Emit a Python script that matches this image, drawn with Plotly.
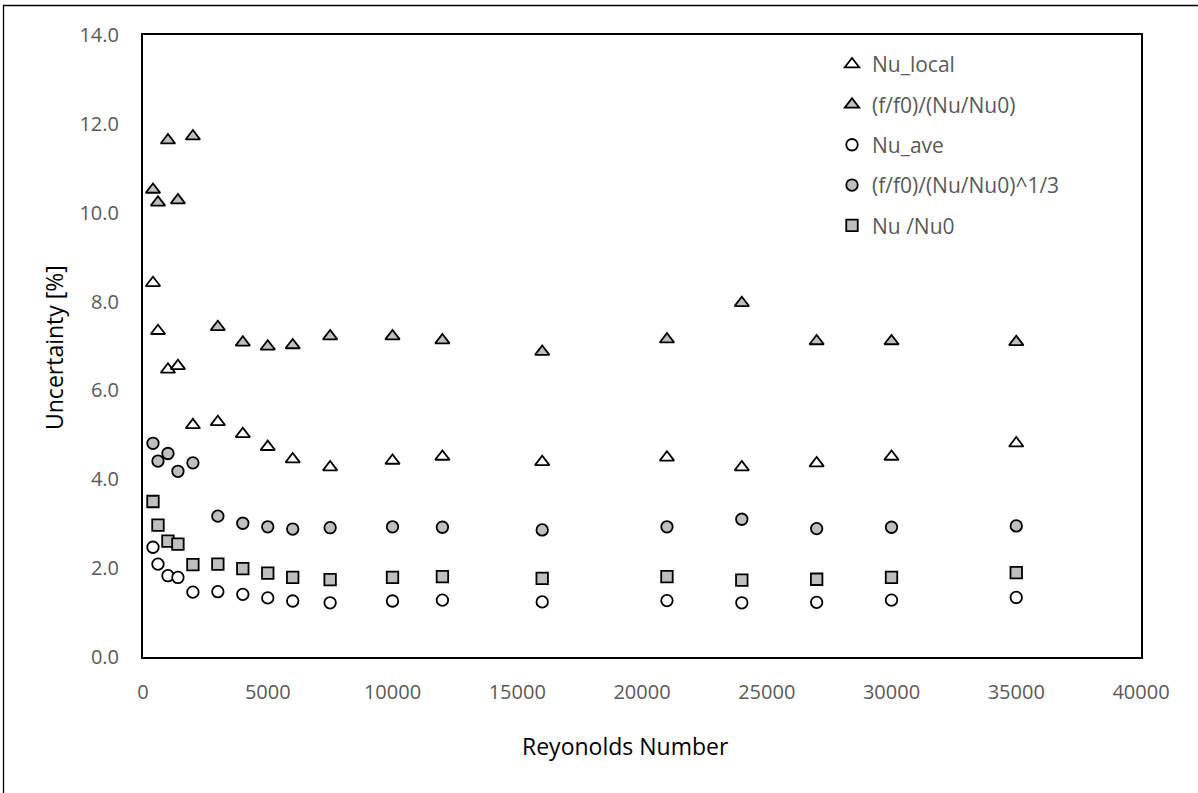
import plotly.graph_objects as go

# ---- data ----
reynolds = [400, 600, 1000, 1400, 2000, 3000, 4000, 5000, 6000, 7500,
            10000, 12000, 16000, 21000, 24000, 27000, 30000, 35000]

nu_local = [8.42, 7.34, 6.47, 6.55, 5.22, 5.29, 5.02, 4.73, 4.45, 4.27,
            4.42, 4.51, 4.39, 4.49, 4.27, 4.36, 4.51, 4.81]
f_ratio_over_nu = [10.52, 10.23, 11.63, 10.28, 11.72, 7.43, 7.08, 6.99, 7.02, 7.22,
                   7.22, 7.13, 6.87, 7.15, 7.97, 7.11, 7.11, 7.09]
nu_ave = [2.47, 2.09, 1.83, 1.79, 1.46, 1.47, 1.41, 1.33, 1.26, 1.22,
          1.26, 1.28, 1.24, 1.27, 1.22, 1.23, 1.28, 1.34]
f_ratio_over_nu_third = [4.81, 4.41, 4.58, 4.18, 4.37, 3.17, 3.01, 2.93, 2.88, 2.91,
                         2.93, 2.92, 2.86, 2.93, 3.10, 2.89, 2.92, 2.95]
nu_over_nu0 = [3.50, 2.97, 2.61, 2.54, 2.08, 2.09, 1.99, 1.89, 1.79, 1.74,
               1.79, 1.81, 1.77, 1.81, 1.73, 1.75, 1.79, 1.90]

series_names = ["Nu_local", "(f/f0)/(Nu/Nu0)", "Nu_ave", "(f/f0)/(Nu/Nu0)^1/3", "Nu /Nu0"]
x_ticks = [0, 5000, 10000, 15000, 20000, 25000, 30000, 35000, 40000]
y_ticks = [0, 2, 4, 6, 8, 10, 12, 14]

# ---- styles ----
GREY = "#BFBFBF"
WHITE = "#FFFFFF"
series_values = [nu_local, f_ratio_over_nu, nu_ave, f_ratio_over_nu_third, nu_over_nu0]
symbols = ["triangle-up", "triangle-up", "circle", "circle", "square"]
fills = [WHITE, GREY, WHITE, GREY, GREY]
sizes = [12.5, 12.5, 11.5, 11.5, 11.5]

FONT = "Open Sans"
W, H = 1198, 793
L, R, T, B = 143, 57, 35, 136

fig = go.Figure()
for i, (name, vals) in enumerate(zip(series_names, series_values)):
    fig.add_trace(go.Scatter(
        x=reynolds, y=vals, mode="markers", name=name, legendgroup=f"g{i}",
        marker=dict(symbol=symbols[i], size=sizes[i], color=fills[i],
                    line=dict(color="#000000", width=1.8)),
    ))

pw = W - L - R
ph = H - T - B


def px_to_paper_x(px):
    return (px - L) / pw


def px_to_paper_y(py):
    return (H - B - py) / ph


fig.update_layout(
    width=W, height=H,
    margin=dict(l=L, r=R, t=T, b=B, pad=0),
    paper_bgcolor="#FFFFFF", plot_bgcolor="#FFFFFF",
    font=dict(family=FONT, color="#595959", size=20),
    showlegend=True,
    legend=dict(
        x=px_to_paper_x(832), y=px_to_paper_y(44), xanchor="left", yanchor="top",
        font=dict(family=FONT, size=21, color="#595959"),
        bgcolor="rgba(0,0,0,0)", borderwidth=0, tracegroupgap=10,
        itemwidth=30,
    ),
    xaxis=dict(
        range=[0, 40000], tickvals=x_ticks, ticktext=[str(v) for v in x_ticks],
        showgrid=False, zeroline=False, showline=True, linecolor="#000000",
        linewidth=2, mirror=True, ticks="outside", ticklen=16,
        tickcolor="rgba(0,0,0,0)",
        tickfont=dict(family=FONT, size=20, color="#595959"),
    ),
    yaxis=dict(
        range=[0, 14], tickvals=y_ticks, ticktext=[f"{v:.1f}" for v in y_ticks],
        showgrid=False, zeroline=False, showline=True, linecolor="#000000",
        linewidth=2, mirror=True, ticks="", ticklabelstandoff=18,
        tickfont=dict(family=FONT, size=20, color="#595959"),
    ),
    annotations=[
        dict(text="Reyonolds Number", xref="paper", yref="paper",
             x=px_to_paper_x(625.5), y=px_to_paper_y(746), xanchor="center", yanchor="middle",
             showarrow=False, font=dict(family=FONT, size=23, color="#000000")),
        dict(text="Uncertainty [%]", xref="paper", yref="paper",
             x=px_to_paper_x(54), y=px_to_paper_y(348), xanchor="center", yanchor="middle",
             textangle=-90, showarrow=False, font=dict(family=FONT, size=23, color="#000000")),
    ],
    shapes=[
        dict(type="rect", xref="paper", yref="paper",
             x0=px_to_paper_x(3.5), x1=px_to_paper_x(1230),
             y0=px_to_paper_y(830), y1=px_to_paper_y(5.5),
             line=dict(color="#000000", width=1.3), fillcolor="rgba(0,0,0,0)", layer="below"),
    ],
)

fig.write_html("out.html")
